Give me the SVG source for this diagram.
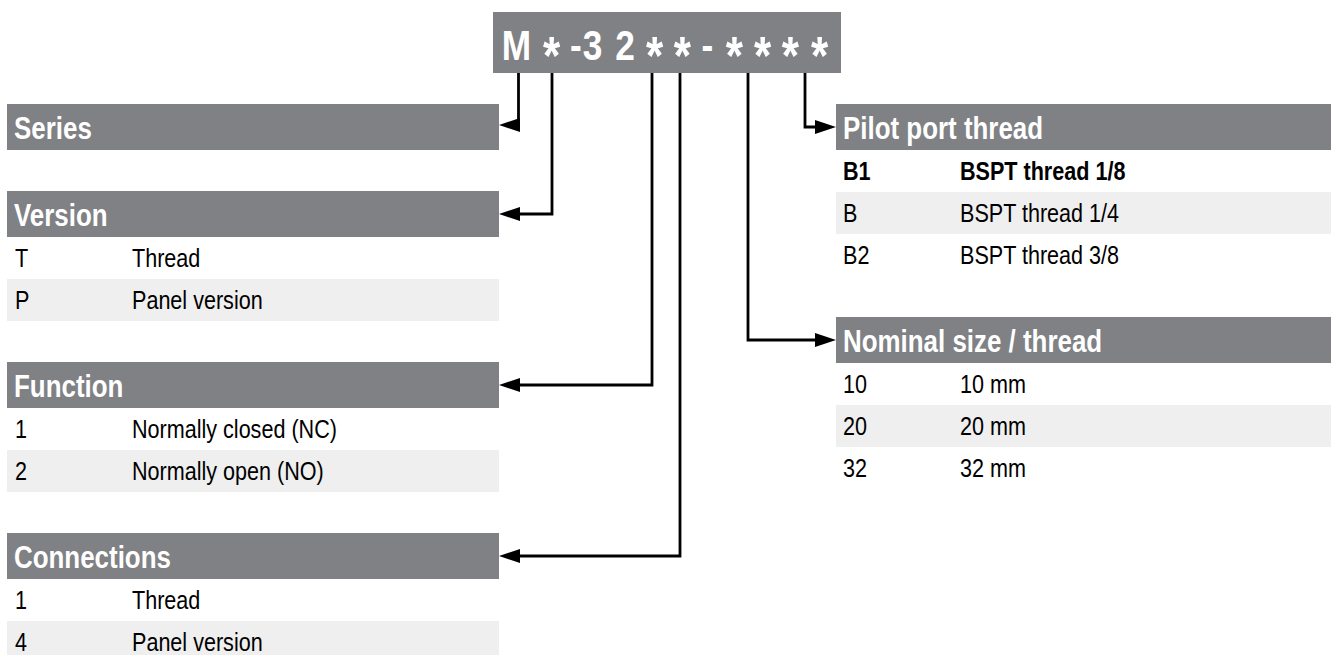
<svg xmlns="http://www.w3.org/2000/svg" width="1338" height="655" viewBox="0 0 1338 655">
<defs>
<style>
.hdr{fill:#808184}
.alt{fill:#efefef}
.ht{font-family:"Liberation Sans",Arial,sans-serif;font-weight:bold;font-size:32px;fill:#fff}
.rt{font-family:"Liberation Sans",Arial,sans-serif;font-size:26px;fill:#000}
.b{font-weight:bold}
.code{font-family:"Liberation Sans",Arial,sans-serif;font-weight:bold;font-size:43px;fill:#fff;text-anchor:middle}
.ast{font-size:54px}
.conn{fill:none;stroke:#000;stroke-width:2.8;marker-end:url(#ah)}
</style>
<marker id="ah" markerUnits="userSpaceOnUse" markerWidth="22" markerHeight="14" viewBox="0 0 21 14" refX="15" refY="7" orient="auto"><path d="M0,0 L21,7 L0,14 z" fill="#000"/></marker>
</defs>
<rect width="1338" height="655" fill="#fff"/>

<g id="code">
<rect class="hdr" x="493" y="12" width="348" height="61"/>
<text class="code" transform="matrix(0.82 0 0 1 0 0)"><tspan x="629.9" y="60">M</tspan><tspan class="ast" x="672.6" y="74">*</tspan><tspan x="702.4" y="60">-</tspan><tspan x="722.6" y="60">3</tspan><tspan x="762.2" y="60">2</tspan><tspan class="ast" x="798.2" y="74">*</tspan><tspan class="ast" x="832.3" y="74">*</tspan><tspan x="862.8" y="60">-</tspan><tspan class="ast" x="895.7" y="74">*</tspan><tspan class="ast" x="929.9" y="74">*</tspan><tspan class="ast" x="964" y="74">*</tspan><tspan class="ast" x="999.4" y="74">*</tspan></text>
</g>

<g id="series">
<rect class="hdr" x="7" y="104" width="492" height="46"/>
<text class="ht" transform="matrix(0.81 0 0 1 14 138.5)">Series</text>
</g>

<g id="version">
<rect class="hdr" x="7" y="191" width="492" height="46"/>
<text class="ht" transform="matrix(0.81 0 0 1 14 225.5)">Version</text>
<rect class="alt" x="7" y="279" width="492" height="42"/>
<text class="rt" transform="matrix(0.83 0 0 1 15 267)">T</text>
<text class="rt" transform="matrix(0.83 0 0 1 132 267)">Thread</text>
<text class="rt" transform="matrix(0.83 0 0 1 15 309)">P</text>
<text class="rt" transform="matrix(0.83 0 0 1 132 309)">Panel version</text>
</g>

<g id="function">
<rect class="hdr" x="7" y="362" width="492" height="46"/>
<text class="ht" transform="matrix(0.81 0 0 1 14 396.5)">Function</text>
<rect class="alt" x="7" y="450" width="492" height="42"/>
<text class="rt" transform="matrix(0.83 0 0 1 15 438)">1</text>
<text class="rt" transform="matrix(0.83 0 0 1 132 438)">Normally closed (NC)</text>
<text class="rt" transform="matrix(0.83 0 0 1 15 480)">2</text>
<text class="rt" transform="matrix(0.83 0 0 1 132 480)">Normally open (NO)</text>
</g>

<g id="connections">
<rect class="hdr" x="7" y="533" width="492" height="46"/>
<text class="ht" transform="matrix(0.81 0 0 1 14 567.5)">Connections</text>
<rect class="alt" x="7" y="621" width="492" height="42"/>
<text class="rt" transform="matrix(0.83 0 0 1 15 609)">1</text>
<text class="rt" transform="matrix(0.83 0 0 1 132 609)">Thread</text>
<text class="rt" transform="matrix(0.83 0 0 1 15 651)">4</text>
<text class="rt" transform="matrix(0.83 0 0 1 132 651)">Panel version</text>
</g>

<g id="pilot">
<rect class="hdr" x="836" y="104" width="495" height="46"/>
<text class="ht" transform="matrix(0.81 0 0 1 843 138.5)">Pilot port thread</text>
<rect class="alt" x="836" y="192" width="495" height="42"/>
<text class="rt b" transform="matrix(0.83 0 0 1 843 180)">B1</text>
<text class="rt b" transform="matrix(0.83 0 0 1 960 180)">BSPT thread 1/8</text>
<text class="rt" transform="matrix(0.83 0 0 1 843 222)">B</text>
<text class="rt" transform="matrix(0.83 0 0 1 960 222)">BSPT thread 1/4</text>
<text class="rt" transform="matrix(0.83 0 0 1 843 264)">B2</text>
<text class="rt" transform="matrix(0.83 0 0 1 960 264)">BSPT thread 3/8</text>
</g>

<g id="nominal">
<rect class="hdr" x="836" y="317" width="495" height="46"/>
<text class="ht" transform="matrix(0.81 0 0 1 843 351.5)">Nominal size / thread</text>
<rect class="alt" x="836" y="405" width="495" height="42"/>
<text class="rt" transform="matrix(0.83 0 0 1 843 393)">10</text>
<text class="rt" transform="matrix(0.83 0 0 1 960 393)">10 mm</text>
<text class="rt" transform="matrix(0.83 0 0 1 843 435)">20</text>
<text class="rt" transform="matrix(0.83 0 0 1 960 435)">20 mm</text>
<text class="rt" transform="matrix(0.83 0 0 1 843 477)">32</text>
<text class="rt" transform="matrix(0.83 0 0 1 960 477)">32 mm</text>
</g>

<g id="connectors">
<path class="conn" d="M518.5,73 V125 H505"/>
<path class="conn" d="M552,73 V214 H505"/>
<path class="conn" d="M652,73 V385 H505"/>
<path class="conn" d="M680,73 V556 H505"/>
<path class="conn" d="M748,73 V340 H830"/>
<path class="conn" d="M805,73 V127 H830"/>
</g>
</svg>
